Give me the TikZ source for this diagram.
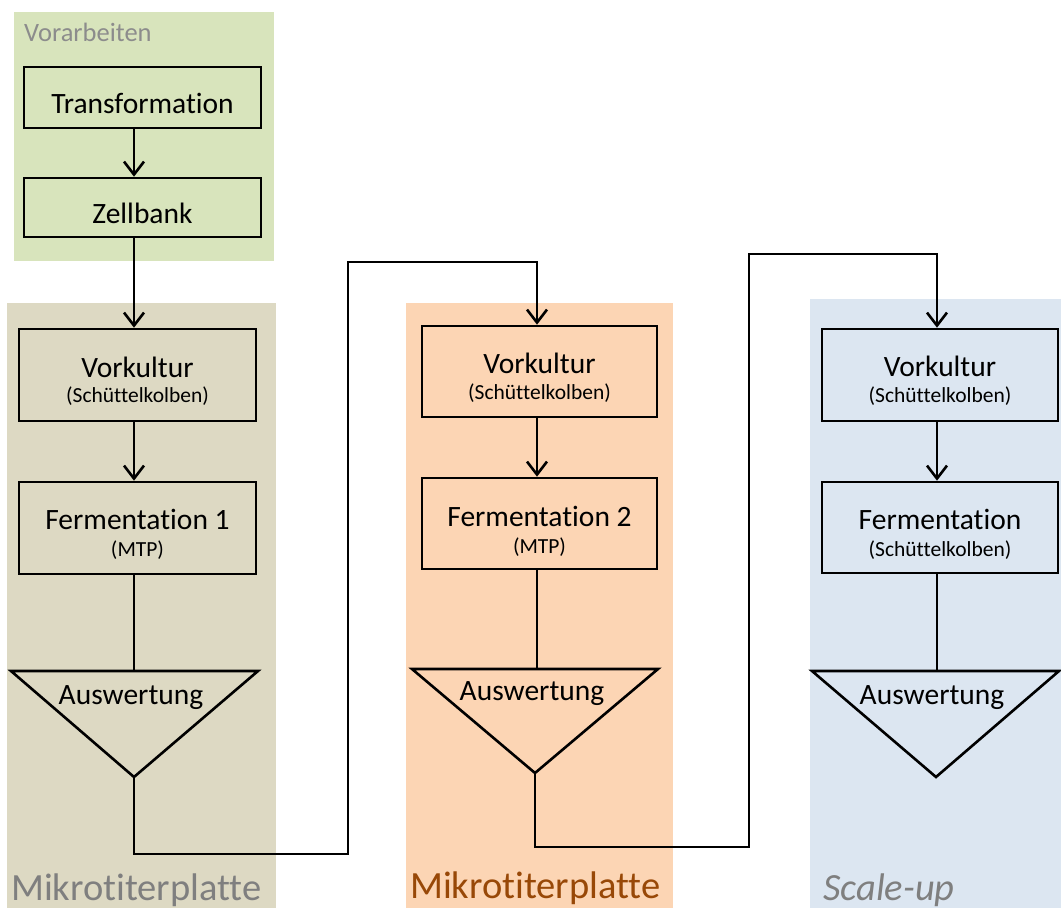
\documentclass[tikz,border=0pt]{standalone}
\usepackage{fontspec}
\setmainfont[Ligatures=NoCommon]{Carlito}
\usetikzlibrary{arrows.meta}
\definecolor{bggreen}{HTML}{D8E4BC}
\definecolor{bgtan}{HTML}{DDD9C3}
\definecolor{bgorange}{HTML}{FCD5B4}
\definecolor{bgblue}{HTML}{DCE6F1}
\definecolor{labgray}{HTML}{7F7F7F}
\definecolor{labbrown}{HTML}{984807}
\begin{document}
\begin{tikzpicture}[x=1pt,y=-1pt,
  box/.style={draw=black, line width=2.6pt, rectangle, inner sep=0pt},
  mainf/.style={font=\fontsize{29.5}{33}\selectfont, inner sep=0pt, anchor=base},
  subf/.style={font=\fontsize{21.5}{25}\selectfont, inner sep=0pt, anchor=base},
  grouplab/.style={font=\fontsize{38.5}{42}\selectfont, inner sep=0pt, anchor=base west},
  conn/.style={draw=black, line width=2.6pt},
  arr/.style={conn, -{Straight Barb[length=13pt,width=20pt,line width=2.6pt]}},
  tri/.style={draw=black, line width=2.6pt, line join=miter}
]
\useasboundingbox (0,0) rectangle (1061,908);
% backgrounds
\fill[bggreen] (14,12) rectangle (274,261);
\fill[bgtan] (7,303) rectangle (276,908);
\fill[bgorange] (406,303) rectangle (673,908);
\fill[bgblue] (810,299) rectangle (1061,908);

% column coordinates
\coordinate (k1) at (134,0);
\coordinate (k2) at (537,0);
\coordinate (k3) at (937,0);

% Vorarbeiten
\node[font=\fontsize{26.5}{30}\selectfont, text=labgray!90, inner sep=0pt, anchor=base west] (lvor) at (24,41) {Vorarbeiten};
\node[box, minimum width=237pt, minimum height=61pt] (tr) at (142.5,97.5) {};
\node[mainf] (trT) at (142.5,113) {Transformation};
\node[box, minimum width=237pt, minimum height=59pt] (zb) at (142.5,207.5) {};
\node[mainf] (zbT) at (142.5,223) {Zellbank};

% column 1
\node[box, minimum width=237pt, minimum height=92pt] (v1) at (137.5,375) {};
\node[mainf] (v1T) at (137.5,377) {Vorkultur};
\node[subf] (v1S) at (137.5,402) {(Schüttelkolben)};
\node[box, minimum width=237pt, minimum height=92pt] (f1) at (137.5,528) {};
\node[mainf] (f1T) at (137.5,529) {Fermentation 1};
\node[subf] (f1S) at (137.5,556) {(MTP)};
\coordinate (a1L) at (11,671);
\coordinate (a1R) at (258,671);
\coordinate (a1P) at (134,777);
\coordinate (a1N) at (134,671);
\draw[tri] (a1L) -- (a1R) -- (a1P) -- cycle;
\node[mainf] (a1T) at (131,704) {Auswertung};

% column 2
\node[box, minimum width=235pt, minimum height=91pt] (v2) at (539.5,371.5) {};
\node[mainf] (v2T) at (539.5,373) {Vorkultur};
\node[subf] (v2S) at (539.5,399) {(Schüttelkolben)};
\node[box, minimum width=235pt, minimum height=91pt] (f2) at (539.5,523.5) {};
\node[mainf] (f2T) at (539.5,526) {Fermentation 2};
\node[subf] (f2S) at (539.5,553) {(MTP)};
\coordinate (a2L) at (412,669);
\coordinate (a2R) at (658,669);
\coordinate (a2P) at (535,773);
\coordinate (a2N) at (537,669);
\draw[tri] (a2L) -- (a2R) -- (a2P) -- cycle;
\node[mainf] (a2T) at (532,700) {Auswertung};

% column 3
\node[box, minimum width=236pt, minimum height=92pt] (v3) at (940,375) {};
\node[mainf] (v3T) at (940,376) {Vorkultur};
\node[subf] (v3S) at (940,402) {(Schüttelkolben)};
\node[box, minimum width=236pt, minimum height=91pt] (f3) at (940,527.5) {};
\node[mainf] (f3T) at (940,529) {Fermentation};
\node[subf] (f3S) at (940,556) {(Schüttelkolben)};
\coordinate (a3L) at (812,671);
\coordinate (a3R) at (1059,671);
\coordinate (a3P) at (936,777);
\coordinate (a3N) at (937,671);
\draw[tri] (a3L) -- (a3R) -- (a3P) -- cycle;
\node[mainf] (a3T) at (932,704) {Auswertung};

% group labels
\node[grouplab, text=labgray] (g1) at (11,900) {Mikrotiterplatte};
\node[grouplab, text=labbrown] (g2) at (410,898) {Mikrotiterplatte};
\node[grouplab, text=labgray, font=\fontsize{38.5}{42}\selectfont\itshape] (g3) at (823,900) {Scale-up};

% connectors
\draw[arr] (tr.south -| k1) -- (zb.north -| k1);
\draw[arr] (zb.south -| k1) -- (v1.north -| k1);
\draw[arr] (v1.south -| k1) -- (f1.north -| k1);
\draw[conn] (f1.south -| k1) -- (a1N);
\coordinate (c1) at (348,854);
\coordinate (c2) at (348,262);
\draw[arr, line join=miter] (a1P) |- (c1) -- (c2) -| (v2.north -| k2);

\draw[arr] (v2.south -| k2) -- (f2.north -| k2);
\draw[conn] (f2.south -| k2) -- (a2N);
\coordinate (c3) at (749,847);
\coordinate (c4) at (749,254);
\draw[arr, line join=miter] (a2P) |- (c3) -- (c4) -| (v3.north -| k3);

\draw[arr] (v3.south -| k3) -- (f3.north -| k3);
\draw[conn] (f3.south -| k3) -- (a3N);
\end{tikzpicture}
\end{document}
